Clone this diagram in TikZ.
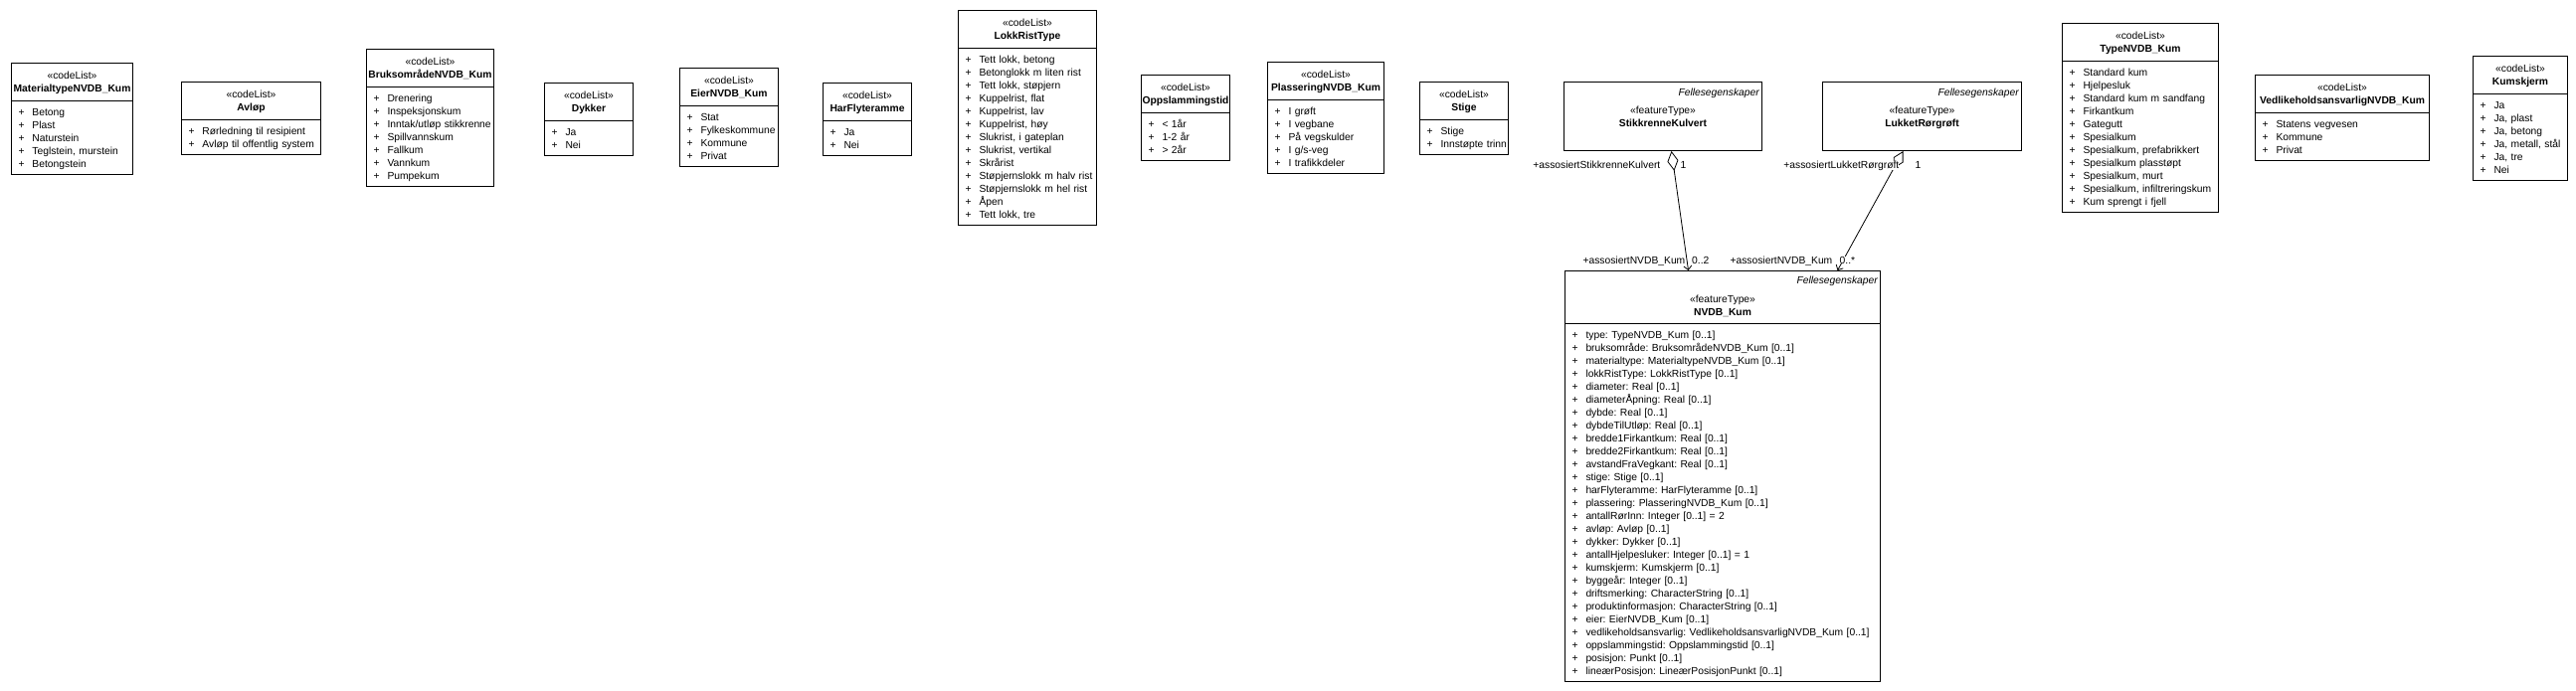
\documentclass[tikz,border=0pt]{standalone}
\usepackage{fontspec}
\setmainfont{Liberation Sans}
\usetikzlibrary{arrows.meta, shapes.multipart}

\frenchspacing
\newcommand\umlfont{\fontsize{10.3}{13}\selectfont}
\newcommand\rowsetup{\baselineskip=13pt\lineskiplimit=-20pt\lineskip=0pt\relax}
\newcommand\rs{\rule[-2.3pt]{0pt}{13pt}}
\newcommand\itm[1]{\hbox to\hsize{\rs\makebox[14pt][l]{+}#1\hss}}
\newcommand\items[1]{\vbox{\rowsetup#1}}
\newcommand\codehead[1]{\vbox{\rowsetup
    \hbox to\hsize{\hss\rule[-2.3pt]{0pt}{14.25pt}«codeList»\hss}
    \hbox to\hsize{\hss\rule[-4.55pt]{0pt}{15.25pt}\textbf{#1}\hss}}}
\newcommand\featurehead[1]{\vbox{\rowsetup
    \hbox to\hsize{\hss\rs«featureType»\hss}
    \hbox to\hsize{\hss\rs\textbf{#1}\hss}}}
\newcommand\kumhead[1]{\vbox{\rowsetup
    \hbox to\hsize{\hss\rule[-2.3pt]{0pt}{30.25pt}«featureType»\hss}
    \hbox to\hsize{\hss\rule[-3.55pt]{0pt}{14.25pt}\textbf{#1}\hss}}}

\begin{document}
\begin{tikzpicture}[x=1pt, y=-1pt,
        codelist/.style={draw, line width=1pt, rectangle split, rectangle split parts=2,
            anchor=north west, inner xsep=7pt, inner ysep=3.75pt, text width={#1pt-14pt}, font=\umlfont},
        feature/.style={draw, line width=1pt, anchor=north west, inner xsep=7pt, inner ysep=3.75pt,
            text width={#1pt-14pt}, minimum height=69pt, font=\umlfont},
        tag/.style={anchor=base east, inner sep=0pt, font=\umlfont\itshape},
        role/.style={inner sep=0pt, fill=white, font=\umlfont},
        assoc/.style={line width=0.8pt, {Diamond[open, length=20pt, width=11pt]}-{Straight Barb[length=4pt, width=8pt]}}
    ]
    \useasboundingbox (0,0) rectangle (2590,694);

    % code lists
    \node[codelist=122] (materialtype) at (11,63) {\codehead{MaterialtypeNVDB\_Kum}\nodepart{second}\items{
        \itm{Betong}\itm{Plast}\itm{Naturstein}\itm{Teglstein, murstein}\itm{Betongstein}}};
    \node[codelist=140] (avlop) at (182,82) {\codehead{Avløp}\nodepart{second}\items{
        \itm{Rørledning til resipient}\itm{Avløp til offentlig system}}};
    \node[codelist=128] (bruksomrade) at (368,49) {\codehead{BruksområdeNVDB\_Kum}\nodepart{second}\items{
        \itm{Drenering}\itm{Inspeksjonskum}\itm{Inntak/utløp stikkrenne}\itm{Spillvannskum}
        \itm{Fallkum}\itm{Vannkum}\itm{Pumpekum}}};
    \node[codelist=89] (dykker) at (547,83) {\codehead{Dykker}\nodepart{second}\items{
        \itm{Ja}\itm{Nei}}};
    \node[codelist=99] (eier) at (683,68) {\codehead{EierNVDB\_Kum}\nodepart{second}\items{
        \itm{Stat}\itm{Fylkeskommune}\itm{Kommune}\itm{Privat}}};
    \node[codelist=89] (flyteramme) at (827,83) {\codehead{HarFlyteramme}\nodepart{second}\items{
        \itm{Ja}\itm{Nei}}};
    \node[codelist=139] (lokkrist) at (963,10) {\codehead{LokkRistType}\nodepart{second}\items{
        \itm{Tett lokk, betong}\itm{Betonglokk m liten rist}\itm{Tett lokk, støpjern}
        \itm{Kuppelrist, flat}\itm{Kuppelrist, lav}\itm{Kuppelrist, høy}
        \itm{Slukrist, i gateplan}\itm{Slukrist, vertikal}\itm{Skrårist}
        \itm{Støpjernslokk m halv rist}\itm{Støpjernslokk m hel rist}\itm{Åpen}\itm{Tett lokk, tre}}};
    \node[codelist=89] (oppslamming) at (1147,75) {\codehead{Oppslammingstid}\nodepart{second}\items{
        \itm{< 1år}\itm{1-2 år}\itm{> 2år}}};
    \node[codelist=117] (plassering) at (1274,62) {\codehead{PlasseringNVDB\_Kum}\nodepart{second}\items{
        \itm{I grøft}\itm{I vegbane}\itm{På vegskulder}\itm{I g/s-veg}\itm{I trafikkdeler}}};
    \node[codelist=89] (stige) at (1427,82) {\codehead{Stige}\nodepart{second}\items{
        \itm{Stige}\itm{Innstøpte trinn}}};
    \node[codelist=157] (typekum) at (2073,23) {\codehead{TypeNVDB\_Kum}\nodepart{second}\items{
        \itm{Standard kum}\itm{Hjelpesluk}\itm{Standard kum m sandfang}\itm{Firkantkum}
        \itm{Gategutt}\itm{Spesialkum}\itm{Spesialkum, prefabrikkert}\itm{Spesialkum plasstøpt}
        \itm{Spesialkum, murt}\itm{Spesialkum, infiltreringskum}\itm{Kum sprengt i fjell}}};
    \node[codelist=175] (vedlikehold) at (2267,75) {\codehead{VedlikeholdsansvarligNVDB\_Kum}\nodepart{second}\items{
        \itm{Statens vegvesen}\itm{Kommune}\itm{Privat}}};
    \node[codelist=95] (kumskjerm) at (2486,56) {\codehead{Kumskjerm}\nodepart{second}\items{
        \itm{Ja}\itm{Ja, plast}\itm{Ja, betong}\itm{Ja, metall, stål}\itm{Ja, tre}\itm{Nei}}};

    % feature types
    \node[feature=199] (stikkrenne) at (1572,82) {\featurehead{StikkrenneKulvert}};
    \node[feature=200] (lukket) at (1832,82) {\featurehead{LukketRørgrøft}};
    \node[codelist=317] (kum) at (1573,272) {\kumhead{NVDB\_Kum}\nodepart{second}\items{
        \itm{type: TypeNVDB\_Kum [0..1]}
        \itm{bruksområde: BruksområdeNVDB\_Kum [0..1]}
        \itm{materialtype: MaterialtypeNVDB\_Kum [0..1]}
        \itm{lokkRistType: LokkRistType [0..1]}
        \itm{diameter: Real [0..1]}
        \itm{diameterÅpning: Real [0..1]}
        \itm{dybde: Real [0..1]}
        \itm{dybdeTilUtløp: Real [0..1]}
        \itm{bredde1Firkantkum: Real [0..1]}
        \itm{bredde2Firkantkum: Real [0..1]}
        \itm{avstandFraVegkant: Real [0..1]}
        \itm{stige: Stige [0..1]}
        \itm{harFlyteramme: HarFlyteramme [0..1]}
        \itm{plassering: PlasseringNVDB\_Kum [0..1]}
        \itm{antallRørInn: Integer [0..1] = 2}
        \itm{avløp: Avløp [0..1]}
        \itm{dykker: Dykker [0..1]}
        \itm{antallHjelpesluker: Integer [0..1] = 1}
        \itm{kumskjerm: Kumskjerm [0..1]}
        \itm{byggeår: Integer [0..1]}
        \itm{driftsmerking: CharacterString [0..1]}
        \itm{produktinformasjon: CharacterString [0..1]}
        \itm{eier: EierNVDB\_Kum [0..1]}
        \itm{vedlikeholdsansvarlig: VedlikeholdsansvarligNVDB\_Kum [0..1]}
        \itm{oppslammingstid: Oppslammingstid [0..1]}
        \itm{posisjon: Punkt [0..1]}
        \itm{lineærPosisjon: LineærPosisjonPunkt [0..1]}}};

    \node[tag] (stikkrenne-tag) at ([xshift=-3pt, yshift=-14pt]stikkrenne.north east) {Fellesegenskaper};
    \node[tag] (lukket-tag) at ([xshift=-3pt, yshift=-14pt]lukket.north east) {Fellesegenskaper};
    \node[tag] (kum-tag) at ([xshift=-3pt, yshift=-13.5pt]kum.north east) {Fellesegenskaper};

    % associations
    \draw[assoc] ([xshift=8.5pt]stikkrenne.south) -- ([xshift=-34.5pt]kum.north);
    \draw[assoc] ([xshift=-19pt]lukket.south) -- ([xshift=115.5pt]kum.north);

    \node[role, anchor=base east] (stikkrenne-role) at ([xshift=-2.5pt, yshift=-17pt]stikkrenne.south) {+assosiertStikkrenneKulvert};
    \node[role, anchor=base west] (stikkrenne-mult) at ([xshift=17.5pt, yshift=-17pt]stikkrenne.south) {1};
    \node[role, anchor=base east] (kum-role1) at ([xshift=-37.5pt, yshift=7pt]kum.north) {+assosiertNVDB\_Kum};
    \node[role, anchor=base west] (kum-mult1) at ([xshift=-31pt, yshift=7pt]kum.north) {0..2};
    \node[role, anchor=base east] (lukket-role) at ([xshift=-23pt, yshift=-17pt]lukket.south) {+assosiertLukketRørgrøft};
    \node[role, anchor=base west] (lukket-mult) at ([xshift=-7pt, yshift=-17pt]lukket.south) {1};
    \node[role, anchor=base east] (kum-role2) at ([xshift=110.5pt, yshift=7pt]kum.north) {+assosiertNVDB\_Kum};
    \node[role, anchor=base west] (kum-mult2) at ([xshift=117.5pt, yshift=7pt]kum.north) {0..*};
\end{tikzpicture}
\end{document}
